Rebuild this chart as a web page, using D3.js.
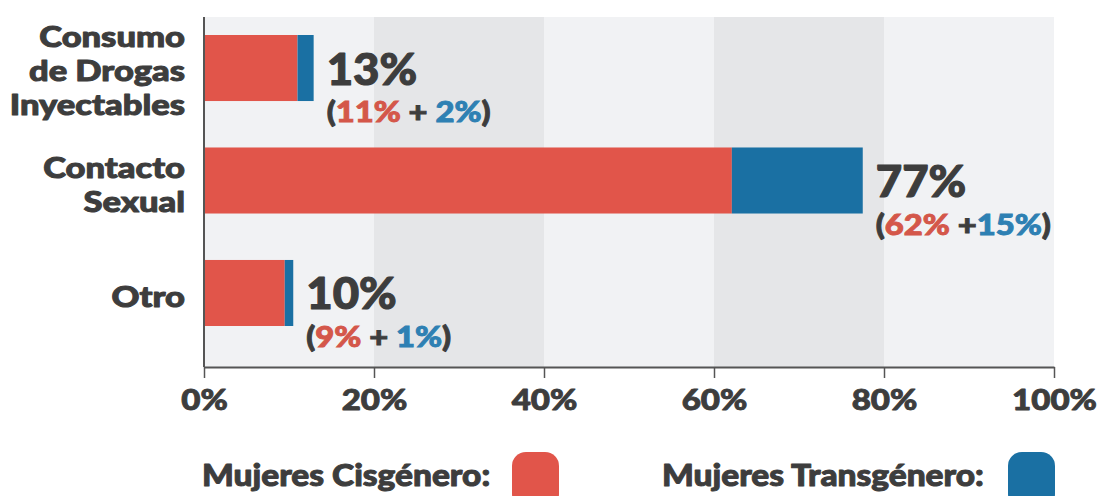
<!DOCTYPE html>
<html><head><meta charset="utf-8">
<script src="https://cdn.jsdelivr.net/npm/d3@7"></script>
<style>
html,body{margin:0;padding:0;background:#fff;}
svg{display:block;font-family:"Lato","Open Sans",sans-serif;font-weight:900;}
</style></head>
<body><svg id="chart" width="1105" height="496"></svg>
<script>
// ---- data ----
const categories = [["Consumo","de Drogas","Inyectables"],["Contacto","Sexual"],["Otro"]];
const cisValues = [11, 62.1, 9.5];
const transValues = [1.9, 15.4, 1.0];
const totalLabels = ["13%","77%","10%"];
const cisLabels = ["11%","62%","9%"];
const transLabels = ["2%","15%","1%"];
const plusText = [" + "," +"," + "];
const xTicks = [0,20,40,60,80,100];
const seriesNames = ["Mujeres Cisgénero:","Mujeres Transgénero:"];

// ---- styles ----
const RED="#e1554a", BLUE="#1a70a3", DARK="#3d3d3d", RED_T="#d4574a", BLUE_T="#2e80b3";
const BG1="#f1f2f4", BG2="#e5e6e8";
const labelNudge = [12.5, 14, 14];

function widen(sel, k){
  sel.each(function(){
    const w = this.getComputedTextLength();
    d3.select(this).attr("textLength", w*k).attr("lengthAdjust","spacingAndGlyphs");
  });
}
function heavy(sel, color, sw){
  sel.attr("stroke", color).attr("stroke-width", sw).attr("stroke-linejoin","round");
}

const svg = d3.select("#chart");
const x = d3.scaleLinear().domain([0,100]).range([204,1054]);
const y = d3.scaleBand().domain(d3.range(3)).range([11.75,349.25]).paddingInner(0.413).paddingOuter(0.2067);
const plotTop = 17, plotBottom = 367;

svg.append("g").selectAll("rect").data(d3.range(5)).join("rect")
  .attr("x", i=>x(i*20)).attr("width", x(20)-x(0))
  .attr("y", plotTop).attr("height", plotBottom-plotTop)
  .attr("fill", i=> i%2===0?BG1:BG2);

const g = svg.append("g");
g.selectAll("rect.cis").data(cisValues).join("rect").attr("class","cis")
  .attr("x", x(0)).attr("y",(d,i)=>y(i)).attr("height", y.bandwidth())
  .attr("width", d=>x(d)-x(0)).attr("fill", RED);
g.selectAll("rect.trans").data(transValues).join("rect").attr("class","trans")
  .attr("x",(d,i)=>x(cisValues[i])).attr("y",(d,i)=>y(i)).attr("height", y.bandwidth())
  .attr("width",(d,i)=>x(cisValues[i]+d)-x(cisValues[i])).attr("fill", BLUE);

const xAxis = d3.axisBottom(x).tickValues(xTicks).tickFormat(d=>d+"%").tickSize(11).tickSizeOuter(0);
const ax = svg.append("g").attr("transform",`translate(0,${plotBottom})`).call(xAxis);
ax.select(".domain").attr("stroke","#555").attr("stroke-width",2);
ax.selectAll(".tick line").attr("stroke","#555").attr("stroke-width",1.5);
const tickTexts = ax.selectAll(".tick text").attr("fill",DARK).attr("font-size",29).attr("font-family","Lato,'Open Sans',sans-serif")
  .attr("font-weight",900).attr("y",0).attr("dy",43);
heavy(tickTexts, DARK, 0.9);
widen(tickTexts, 1.14);

svg.append("line").attr("x1",x(0)).attr("x2",x(0)).attr("y1",plotTop).attr("y2",plotBottom)
  .attr("stroke","#555").attr("stroke-width",2);

const lineH = 34;
categories.forEach((lines,i)=>{
  const cy = y(i)+y.bandwidth()/2;
  const n = lines.length;
  lines.forEach((ln,j)=>{
    const t = svg.append("text").attr("text-anchor","end").attr("fill",DARK).attr("font-size",29)
      .attr("x",185).attr("y", cy + labelNudge[i] + (j-(n-1)/2)*lineH).text(ln);
    heavy(t, DARK, 1);
    widen(t, 1.19);
  });
});

totalLabels.forEach((lab,i)=>{
  const cy = y(i)+y.bandwidth()/2;
  const lx = x(cisValues[i]+transValues[i]) + 13;
  const big = svg.append("text").attr("x",lx).attr("y",cy+16.5).attr("fill",DARK).attr("font-size",43).text(lab);
  heavy(big, DARK, 1.1);
  widen(big, 1.06);
  const t = svg.append("text").attr("x",lx).attr("y",cy+54).attr("fill",DARK).attr("font-size",28);
  const parts = [["(",DARK],[cisLabels[i],RED_T],[plusText[i],DARK],[transLabels[i],BLUE_T],[")",DARK]];
  parts.forEach(([s,c])=>{
    t.append("tspan").attr("fill",c).attr("stroke",c).attr("stroke-width",0.9).style("white-space","pre").text(s);
  });
  widen(t, 1.17);
});

const legendX = [202, 662];
const swatchX = [512, 1008];
const colors = [RED, BLUE];
seriesNames.forEach((nm,i)=>{
  const t = svg.append("text").attr("x",legendX[i]).attr("y",486).attr("fill",DARK).attr("font-size",31).text(nm);
  heavy(t, DARK, 1);
  widen(t, 1.08);
  svg.append("rect").attr("x",swatchX[i]).attr("y",452).attr("width",47).attr("height",56)
    .attr("rx",14).attr("fill",colors[i]);
});
</script></body></html>
